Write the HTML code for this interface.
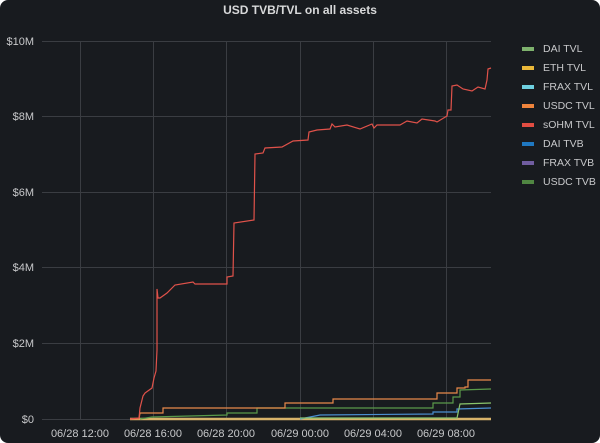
<!DOCTYPE html>
<html><head><style>
body{margin:0;background:#fff;}
.p{position:absolute;left:0;top:0;width:600px;height:443px;background:#181b1f;border-radius:8px;overflow:hidden;font-family:"Liberation Sans",sans-serif;}
</style></head><body><div class="p">
<svg width="600" height="443" xmlns="http://www.w3.org/2000/svg" font-family="Liberation Sans, sans-serif">
<text x="300" y="14" fill="#d8d9da" font-size="12" font-weight="bold" text-anchor="middle">USD TVB/TVL on all assets</text>
<g stroke="#3a3d42" stroke-width="1">
<line x1="42" y1="41.5" x2="491" y2="41.5"/><line x1="42" y1="116.5" x2="491" y2="116.5"/><line x1="42" y1="192.5" x2="491" y2="192.5"/><line x1="42" y1="267.5" x2="491" y2="267.5"/><line x1="42" y1="343.5" x2="491" y2="343.5"/><line x1="42" y1="419.5" x2="491" y2="419.5"/>
<line x1="80.5" y1="41" x2="80.5" y2="420"/><line x1="153.5" y1="41" x2="153.5" y2="420"/><line x1="226.5" y1="41" x2="226.5" y2="420"/><line x1="300.5" y1="41" x2="300.5" y2="420"/><line x1="373.5" y1="41" x2="373.5" y2="420"/><line x1="446.5" y1="41" x2="446.5" y2="420"/>
</g>
<g fill="#c7c8ca" font-size="11" text-anchor="end">
<text x="34" y="45">$10M</text><text x="34" y="120">$8M</text><text x="34" y="196">$6M</text><text x="34" y="271">$4M</text><text x="34" y="347">$2M</text><text x="34" y="423">$0</text>
</g>
<g fill="#c7c8ca" font-size="11" text-anchor="middle">
<text x="80" y="437">06/28 12:00</text><text x="153" y="437">06/28 16:00</text><text x="226" y="437">06/28 20:00</text><text x="300" y="437">06/29 00:00</text><text x="373" y="437">06/29 04:00</text><text x="446" y="437">06/29 08:00</text>
</g>
<g fill="none" stroke-width="1.2">
<polyline stroke="#d8b36a" stroke-width="2.5" points="130,419 491,419"/>
<polyline stroke="#4b8fd1" points="300,419 310,417 320,415 433,414 433,412 457,412 457,409 491,408"/>
<polyline stroke="#8ac46b" points="300,418 457,418 460,404 491,403"/>
<polyline stroke="#5a9a4a" points="140,419 152,417 227,415 227,413 257,413 257,408 433,408 433,403 453,403 453,397 460,397 460,390 491,389"/>
<polyline stroke="#e8894a" points="130,419 139,419 140,413 163,413 163,408 285,408 285,403 333,403 333,399 437,399 437,393 457,393 457,388 465,388 465,387 468,387 468,380 491,380"/>
<polyline stroke="#e0524a" points="130,419 139,418 140,408 143,396 145,393 152,388 154,378 156,371 157,350 157,289 158,298 160,298 167,293 175,285 193,282 195,284 227,284 227,277 233,276 234,223 254,220 255,154 263,153 265,148 282,147 293,141 308,140 309,132 317,130 330,129 332,124 335,127 347,125 360,129 372,124 374,128 377,125 400,125 407,121 417,123 422,119 435,121 437,122 447,116 448,110 451,110 452,86 457,85 463,89 472,91 478,87 485,89 487,80 488,69 491,68"/>
</g>
<g font-size="10.5" fill="#c7c8ca">
<rect x="522" y="47" width="12" height="4" fill="#7eb26d"/><text x="543" y="52">DAI TVL</text>
<rect x="522" y="66" width="12" height="4" fill="#eab839"/><text x="543" y="71">ETH TVL</text>
<rect x="522" y="85" width="12" height="4" fill="#6ed0e0"/><text x="543" y="90">FRAX TVL</text>
<rect x="522" y="104" width="12" height="4" fill="#ef843c"/><text x="543" y="109">USDC TVL</text>
<rect x="522" y="123" width="12" height="4" fill="#e24d42"/><text x="543" y="128">sOHM TVL</text>
<rect x="522" y="142" width="12" height="4" fill="#1f78c1"/><text x="543" y="147">DAI TVB</text>
<rect x="522" y="161" width="12" height="4" fill="#705da0"/><text x="543" y="166">FRAX TVB</text>
<rect x="522" y="180" width="12" height="4" fill="#508642"/><text x="543" y="185">USDC TVB</text>
</g>
</svg></div></body></html>
